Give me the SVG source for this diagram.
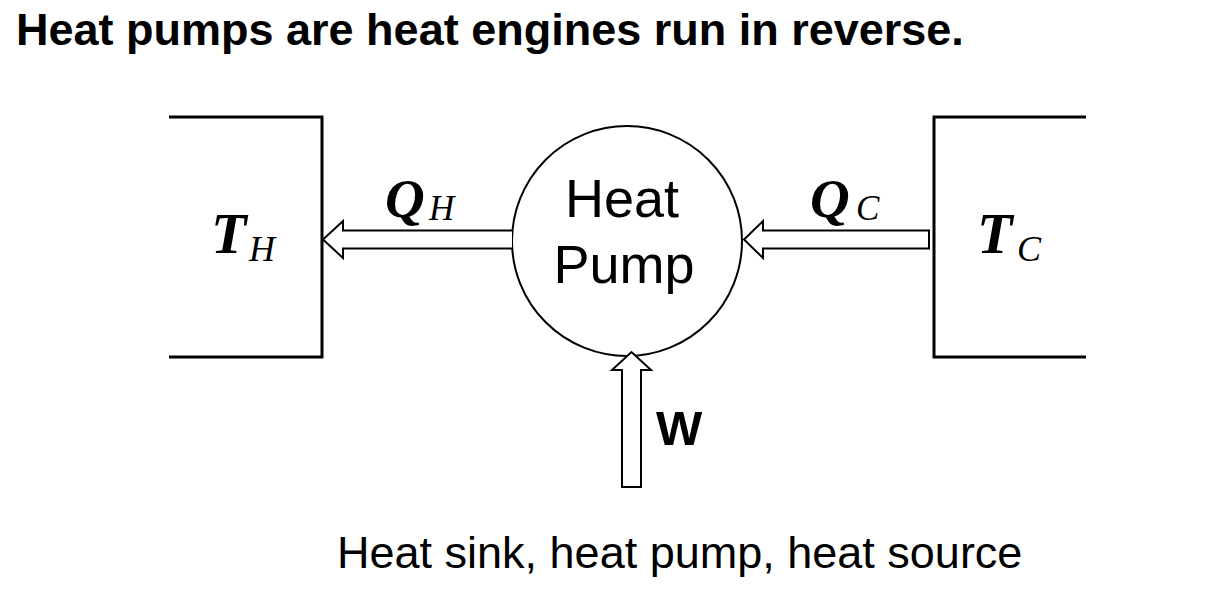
<svg xmlns="http://www.w3.org/2000/svg" width="1226" height="598" viewBox="0 0 1226 598">
<style>
.box{fill:none;stroke:#000;stroke-width:3}
.arr{fill:#fff;stroke:#000;stroke-width:2;stroke-linejoin:miter}
.sans{font-family:"Liberation Sans",Arial,sans-serif;fill:#000}
.m{font-family:"Liberation Serif","Times New Roman",serif;font-style:italic;fill:#000}
.mb{font-weight:bold}
</style>
<rect width="1226" height="598" fill="#fff"/>
<text class="sans" x="16" y="45" font-size="45" font-weight="bold">Heat pumps are heat engines run in reverse.</text>
<g id="hot-reservoir">
<path class="box" d="M169,117 H322 V357 H169"/>
<text class="m mb" x="211" y="253" font-size="58">T</text>
<text class="m" x="249" y="261" font-size="36">H</text>
</g>
<g id="cold-reservoir">
<path class="box" d="M1086,117 H934 V357 H1086"/>
<text class="m mb" x="977" y="253" font-size="58">T</text>
<text class="m" x="1017" y="261" font-size="36">C</text>
</g>
<g id="heat-pump">
<circle cx="627" cy="241" r="115" fill="#fff" stroke="#000" stroke-width="2"/>
<text class="sans" x="622" y="217" font-size="54" text-anchor="middle">Heat</text>
<text class="sans" x="624" y="283" font-size="54" text-anchor="middle">Pump</text>
</g>
<g id="connectors">
<path class="arr" d="M512,230.5 H343 V221 L323,239.5 L343,258 V248.5 H512"/>
<path class="arr" d="M929,230.5 H763 V221 L744,239.5 L763,258 V248.5 H929 Z"/>
<path class="arr" d="M622,487 V370 H612 L631.5,352 L651,370 H641 V487 Z"/>
<text class="m mb" x="385" y="217" font-size="55">Q</text>
<text class="m" x="429" y="220" font-size="35">H</text>
<text class="m mb" x="810" y="217" font-size="55">Q</text>
<text class="m" x="856" y="220" font-size="35">C</text>
<text class="sans" x="656" y="445" font-size="49" font-weight="bold">W</text>
</g>
<text class="sans" x="337" y="568" font-size="45">Heat sink, heat pump, heat source</text>
</svg>
